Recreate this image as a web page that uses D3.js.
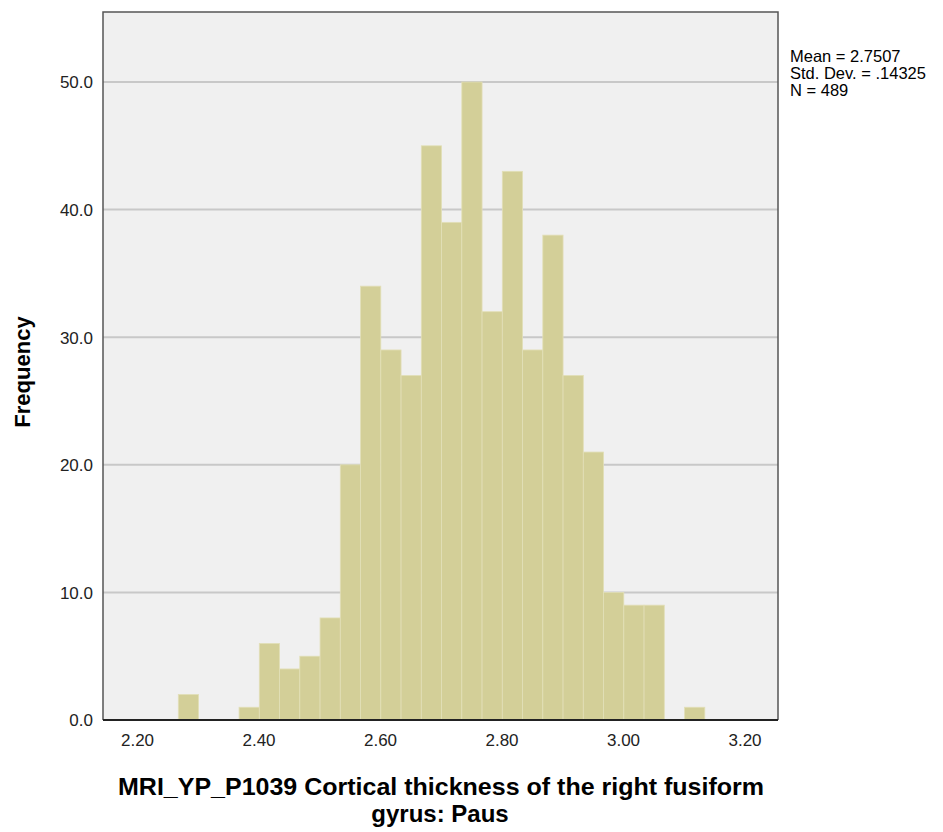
<!DOCTYPE html>
<html><head><meta charset="utf-8">
<script src="https://cdn.jsdelivr.net/npm/d3@7"></script>
<style>body{margin:0;background:#fff;} text{font-family:"Liberation Sans",Arial,sans-serif;}</style>
</head><body>
<svg id="chart" width="943" height="832"></svg>
<script>
// Bin lower edges (width 1/30) and frequencies
const binStart = 2.268;
const binWidth = 1/30;
const counts = [2,0,0,1,6,4,5,8,20,34,29,27,45,39,50,32,43,29,38,27,21,10,9,9,0,1];
const xTicks = [2.20,2.40,2.60,2.80,3.00,3.20];
const yTicks = [0,10,20,30,40,50];
const statsLines = ["Mean = 2.7507","Std. Dev. = .14325","N = 489"];
const xTitle = ["MRI_YP_P1039 Cortical thickness of the right fusiform","gyrus: Paus"];
const yTitle = "Frequency";

const bins = counts.map((c,i)=>({x0: binStart + i*binWidth, x1: binStart + (i+1)*binWidth, n: c}));

const svg = d3.select("#chart");
const L = 103, R = 778, T = 12, B = 720;
const x = d3.scaleLinear().domain([2.20, 3.20]).range([137, 744.5]);
const y = d3.scaleLinear().domain([0, 50]).range([B, 82]);

svg.append("rect").attr("x",L).attr("y",T).attr("width",R-L).attr("height",B-T).attr("fill","#f0f0f0");

// gridlines
svg.append("g").selectAll("line").data(yTicks.filter(d=>d>0)).join("line")
  .attr("x1",L).attr("x2",R).attr("y1",d=>y(d)).attr("y2",d=>y(d))
  .attr("stroke","#c8c8c8").attr("stroke-width",2);

// bars
svg.append("g").selectAll("rect").data(bins.filter(b=>b.n>0)).join("rect")
  .attr("x",d=>x(d.x0)).attr("width",d=>x(d.x1)-x(d.x0))
  .attr("y",d=>y(d.n)).attr("height",d=>y(0)-y(d.n))
  .attr("fill","#d3cf98").attr("stroke","#e2dfb8").attr("stroke-width",0.8);

// frame
svg.append("path").attr("d",`M${L},${B}V${T}H${R}V${B}`).attr("fill","none").attr("stroke","#555").attr("stroke-width",1.5);
svg.append("line").attr("x1",L).attr("x2",R).attr("y1",B).attr("y2",B).attr("stroke","#222").attr("stroke-width",2);

// y axis labels
const yAxis = d3.axisLeft(y).tickValues(yTicks).tickFormat(d3.format(".1f")).tickSize(0).tickPadding(10);
const ga = svg.append("g").attr("transform",`translate(${L},0)`).call(yAxis);
ga.select(".domain").remove();
ga.selectAll("text").attr("font-size",17).attr("fill","#222").attr("font-family","Liberation Sans, Arial, sans-serif").attr("dy","0.35em");

// x axis labels
const xAxis = d3.axisBottom(x).tickValues(xTicks).tickFormat(d3.format(".2f")).tickSize(0).tickPadding(14);
const gx = svg.append("g").attr("transform",`translate(0,${B})`).call(xAxis);
gx.select(".domain").remove();
gx.selectAll("text").attr("font-size",17).attr("fill","#222").attr("font-family","Liberation Sans, Arial, sans-serif");

// titles
svg.append("text").attr("transform","translate(30,372) rotate(-90)").attr("text-anchor","middle")
  .attr("font-size",22).attr("font-weight","bold").attr("fill","#000").text(yTitle);
const tt = svg.append("g").attr("font-size",24).attr("font-weight","bold").attr("fill","#000").attr("text-anchor","middle");
tt.append("text").attr("x",441).attr("y",795).attr("textLength",646).attr("lengthAdjust","spacingAndGlyphs").text(xTitle[0]);
tt.append("text").attr("x",440).attr("y",822).text(xTitle[1]);

// stats
svg.append("g").selectAll("text").data(statsLines).join("text")
  .attr("x",790).attr("y",(d,i)=>62+i*17).attr("font-size",16.5).attr("fill","#000").text(d=>d);
</script>
</body></html>
